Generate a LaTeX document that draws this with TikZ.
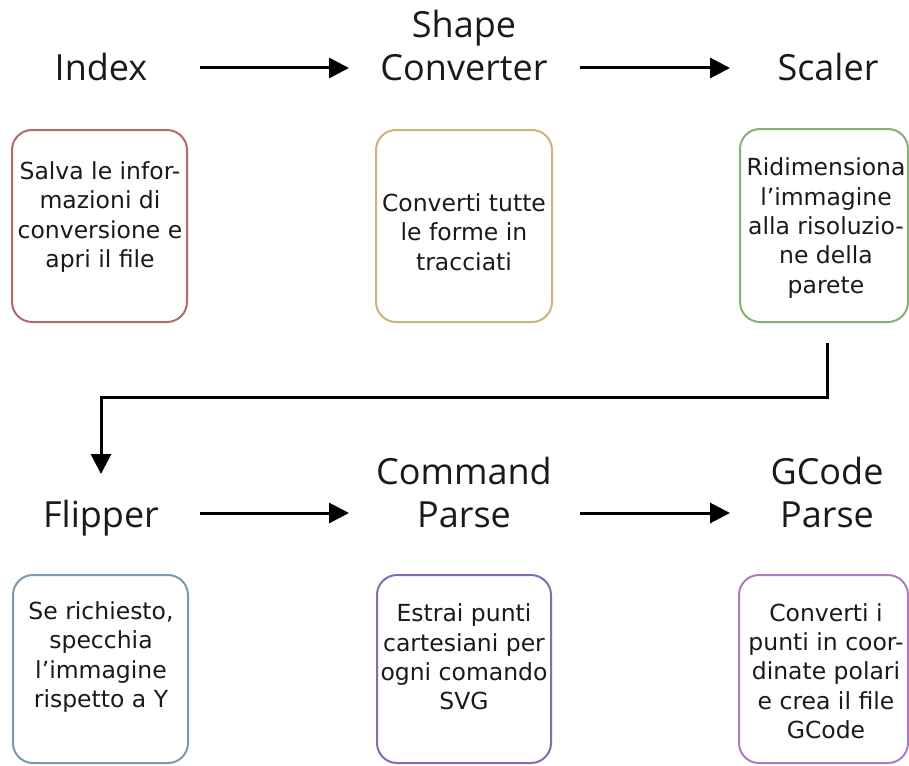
\documentclass[tikz,border=0pt]{standalone}
\usepackage{fontspec}
\setmainfont{Open Sans}
\newfontfamily\boxfont{DejaVu Sans}
\usetikzlibrary{arrows.meta}
\definecolor{cred}{HTML}{B46A6A}
\definecolor{cyel}{HTML}{C9B47C}
\definecolor{cgrn}{HTML}{88B070}
\definecolor{cblu}{HTML}{7A9BAF}
\definecolor{cpur}{HTML}{8A6AAE}
\definecolor{cpnk}{HTML}{B07AC0}
\definecolor{ink}{HTML}{1A1A1A}
\tikzset{
  head/.style={anchor=base, align=center, inner sep=0, text=ink, font=\fontsize{36}{43}\selectfont},
  box/.style={draw=#1, line width=2pt, rounded corners=20pt, fill=white},
  btext/.style={align=center, inner sep=0, text=ink, font=\boxfont\fontsize{23.5}{29.3}\selectfont},
  arr/.style={line width=3pt, -{Triangle[length=20pt,width=20pt]}}
}
\begin{document}
\begin{tikzpicture}[x=1pt,y=-1pt]
\useasboundingbox (0,0) rectangle (909,765);
% headings
\node[head] (index) at (101,81) {Index};
\node[head] (shape) at (464,81) {Shape\\Converter};
\node[head] (scaler) at (828,81) {Scaler};
\node[head] (flipper) at (101,527) {Flipper};
\node[head] (command) at (464,527) {Command\\Parse};
\node[head] (gcode) at (827,527) {GCode\\Parse};
% boxes
\draw[box=cred] (12,130) rectangle (187,322);
\draw[box=cyel] (376,130) rectangle (552,322);
\draw[box=cgrn] (740,129) rectangle (908,322);
\draw[box=cblu] (13,575) rectangle (188,763);
\draw[box=cpur] (377,575) rectangle (551,763);
\draw[box=cpnk] (739,575) rectangle (908,763);
% box texts
\node[btext] (t1) at (100,217) {Salva le infor-\\mazioni di\\conversione e\\apri il file};
\node[btext] (t2) at (464,232) {Converti tutte\\le forme in\\tracciati};
\node[btext] (t3) at (826,228) {Ridimensiona\\l’immagine\\alla risoluzio-\\ne della\\parete};
\node[btext] (t4) at (101,657) {Se richiesto,\\specchia\\l’immagine\\rispetto a Y};
\node[btext] (t5) at (464,657) {Estrai punti\\cartesiani per\\ogni comando\\SVG};
\node[btext] (t6) at (826,671) {Converti i\\punti in coor-\\dinate polari\\e crea il file\\GCode};
% arrows
\coordinate (a1s) at (200,68); \coordinate (a1e) at (349,68);
\coordinate (a2s) at (580,68); \coordinate (a2e) at (730,68);
\coordinate (a3s) at (200,513); \coordinate (a3e) at (349,513);
\coordinate (a4s) at (580,513); \coordinate (a4e) at (730,513);
\draw[arr] (a1s) -- (a1e);
\draw[arr] (a2s) -- (a2e);
\draw[arr] (a3s) -- (a3e);
\draw[arr] (a4s) -- (a4e);
\coordinate (c1) at (827,343);
\coordinate (c2) at (101,474);
\draw[arr] (c1) -- (827,397) -- (101,397) -- (c2);
\end{tikzpicture}
\end{document}
